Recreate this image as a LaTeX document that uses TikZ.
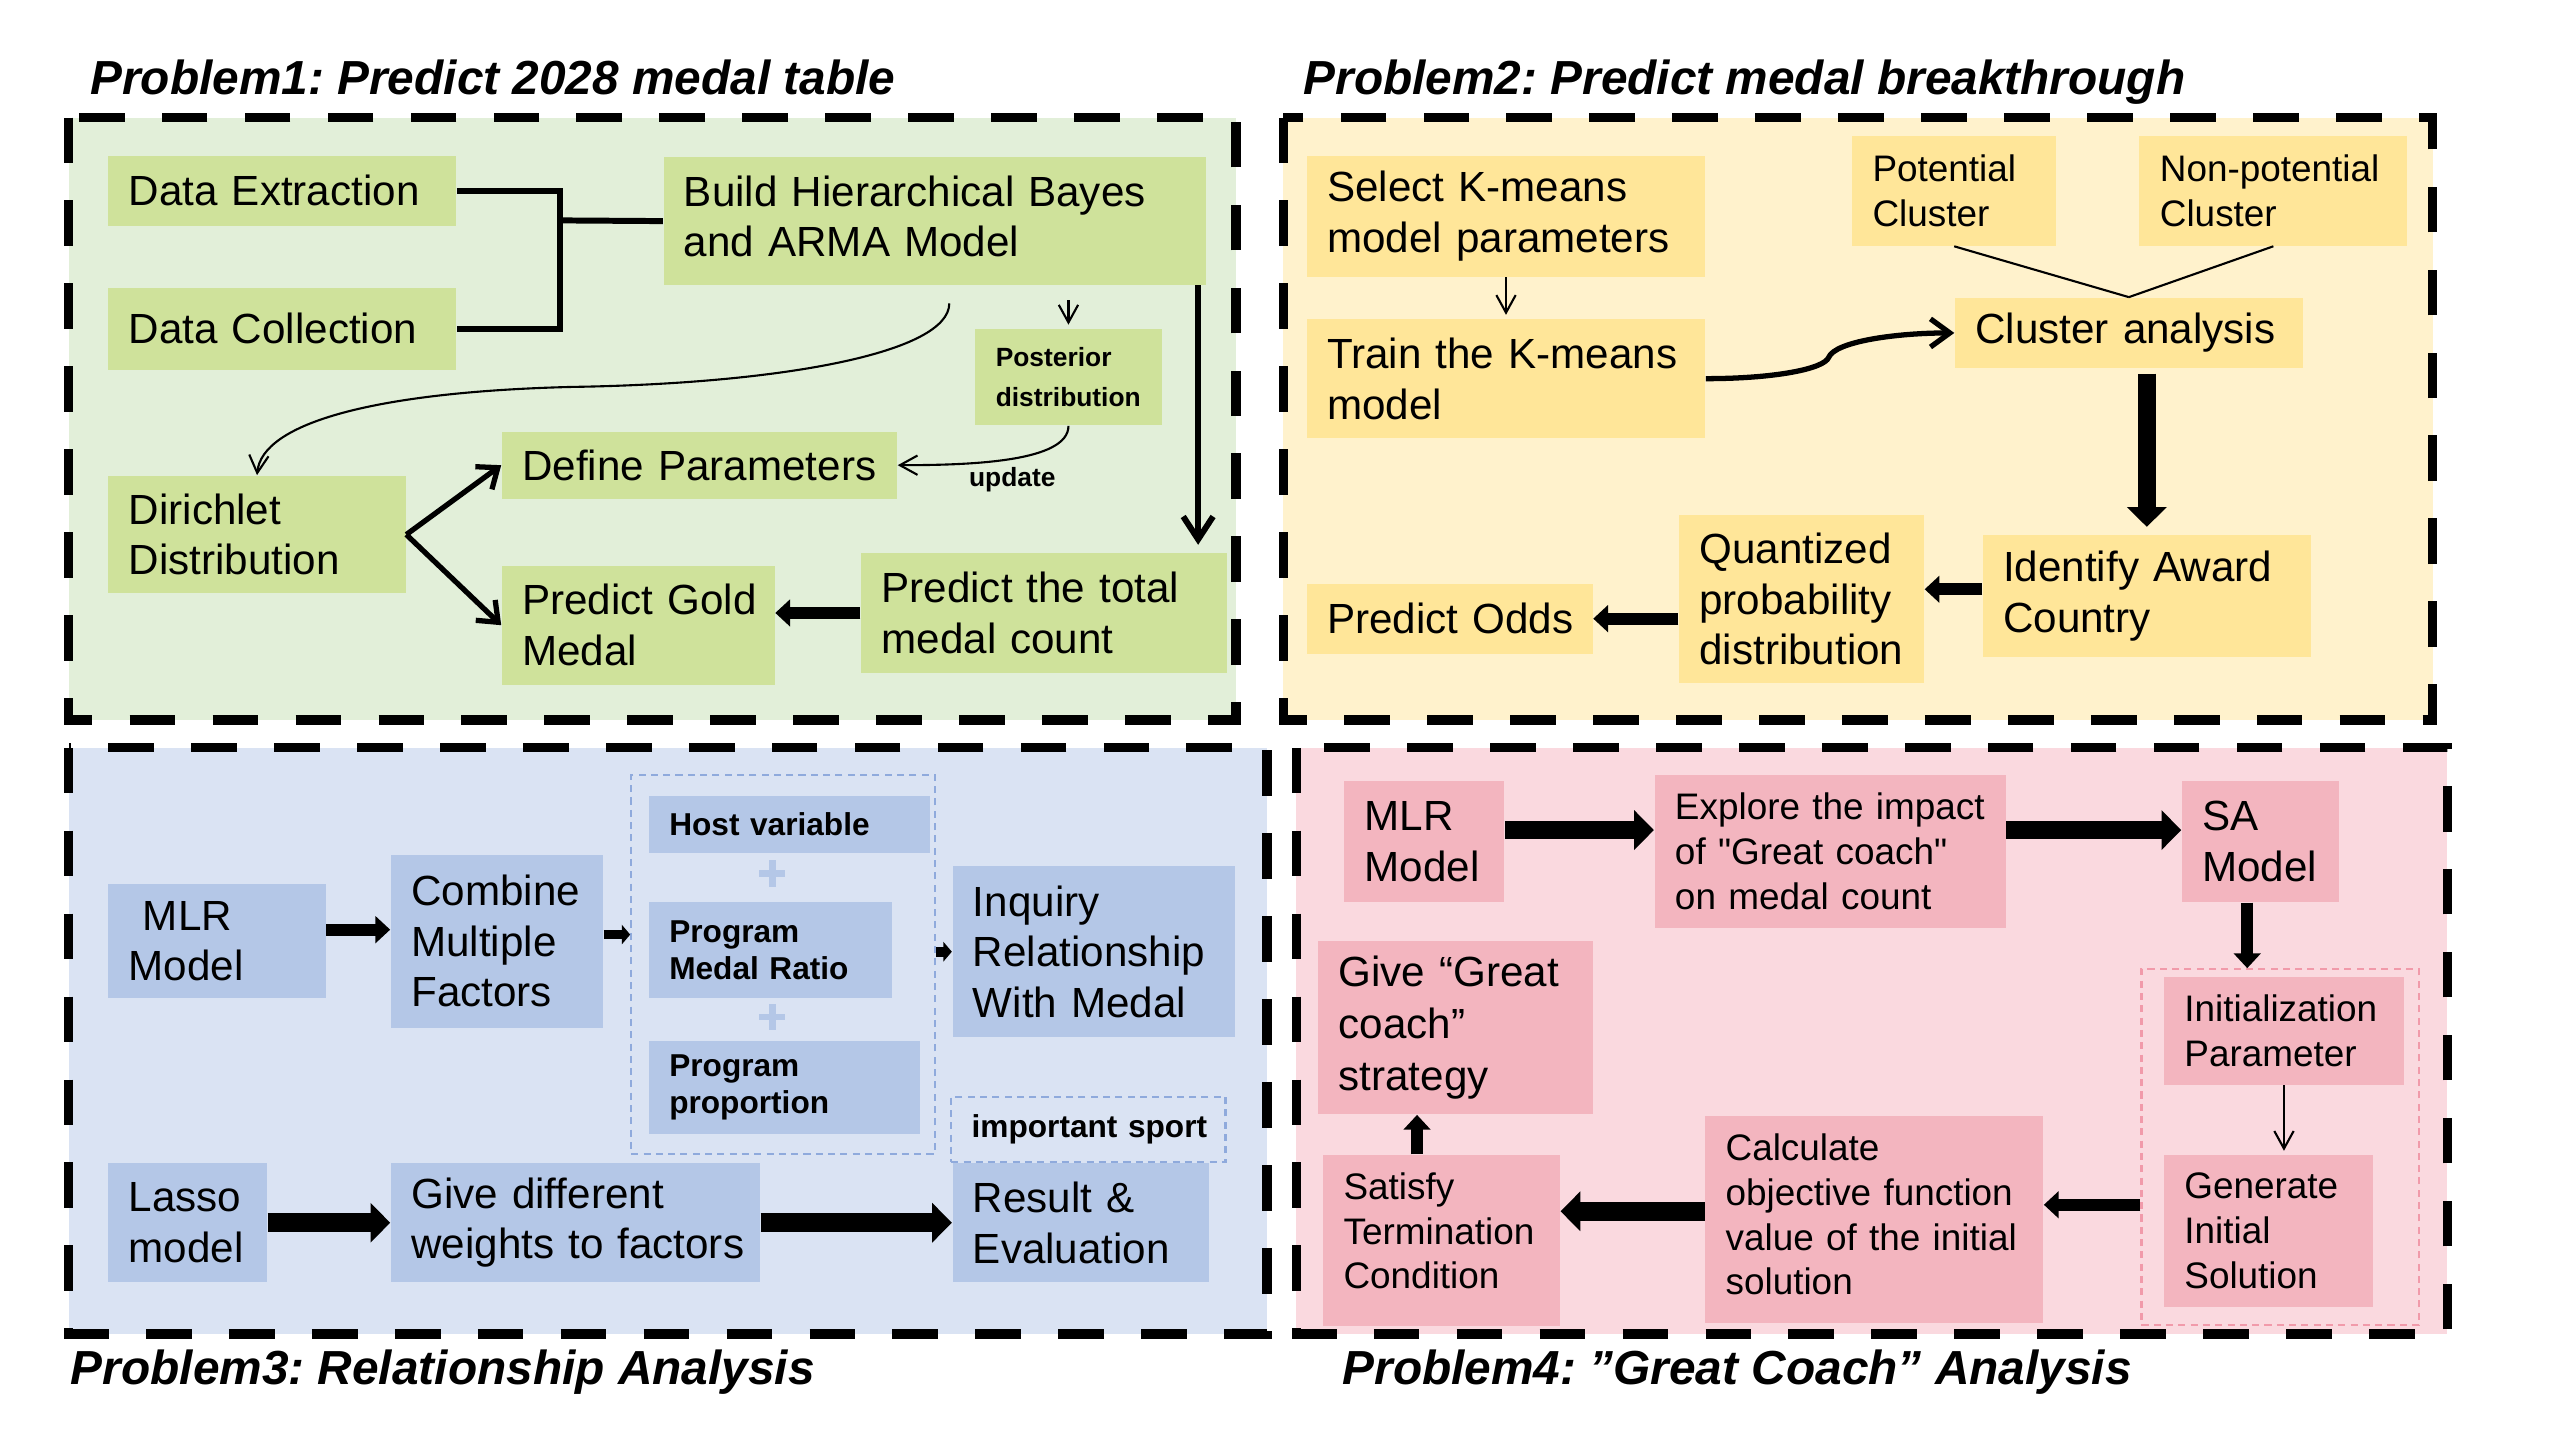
\documentclass[tikz,border=0pt]{standalone}
\usepackage{fontspec}
\setmainfont{Liberation Sans}
\newfontfamily\quotefont{Liberation Sans}
\usetikzlibrary{arrows.meta}

\newlength{\px}\setlength{\px}{0.16327mm}
\hyphenpenalty=10000 \exhyphenpenalty=10000
\frenchspacing

\definecolor{p1back}{HTML}{E2EFD9}
\definecolor{p1box}{HTML}{CFE29B}
\definecolor{p2back}{HTML}{FFF2CC}
\definecolor{p2box}{HTML}{FFE699}
\definecolor{p3back}{HTML}{DAE3F3}
\definecolor{p3box}{HTML}{B4C7E7}
\definecolor{p3dash}{HTML}{8FAADC}
\definecolor{p4back}{HTML}{FAD9DF}
\definecolor{p4box}{HTML}{F3B5BF}
\definecolor{p4dash}{HTML}{F19AAA}

\begin{document}
\begin{tikzpicture}[x=0.16327mm, y=-0.16327mm,
  panelborder/.style={line width=2.7pt, dash pattern=on 13pt off 10.6pt},
  cell/.style={anchor=north west, inner xsep=12.5\px, inner ysep=0pt, align=left, font=\fontsize{12}{14.4}\selectfont},
  gcell/.style={cell, fill=p1box},
  ycell/.style={cell, fill=p2box},
  bcell/.style={cell, fill=p3box},
  pcell/.style={cell, fill=p4box},
  smalltext/.style={font=\fontsize{10.5}{12.7}\selectfont},
  boldnine/.style={font=\bfseries\fontsize{9}{10.6}\selectfont},
  boldseven/.style={font=\bfseries\fontsize{7.5}{11.6}\selectfont},
  groupbox/.style={anchor=north west, inner sep=0pt, line width=0.6pt, dash pattern=on 2pt off 1.5pt},
  paneltitle/.style={anchor=base west, inner sep=0pt, font=\bfseries\itshape\fontsize{13.6}{16}\selectfont},
  bracket/.style={line width=1.7pt},
  plainline/.style={line width=0.6pt},
  thinarrow/.style={line width=0.6pt, -{Straight Barb[length=5pt, width=5.5pt]}},
  fork/.style={line width=1.5pt, -{Straight Barb[length=5pt, width=8pt]}},
  medline/.style={line width=1.7pt, -{Straight Barb[length=6.5pt, width=8.5pt]}},
  curvearrow/.style={line width=1.5pt, -{Straight Barb[length=5.5pt, width=8pt]}},
  bigarrow/.style={line width=5.3pt, -{Triangle[length=5.6pt, width=11pt]}},
  midarrow/.style={line width=3.4pt, -{Triangle[length=4.2pt, width=7.5pt]}},
  tinyarrow/.style={line width=2.8pt, -{Triangle[length=2.4pt, width=5.5pt]}},
  plussign/.style={line width=1.9pt, draw=p3box}]

\useasboundingbox (0,0) rectangle (1568,882);

% panels
\fill[p1back] (42,72) rectangle (757,441);
\draw[panelborder] (42,72) rectangle (757,441);
\fill[p2back] (786,72) rectangle (1490,441);
\draw[panelborder] (786,72) rectangle (1490,441);
\fill[p3back] (42,458) rectangle (776,817);
\draw[panelborder] (42,458) rectangle (776,817);
\fill[p4back] (794,458) rectangle (1499,817);
\draw[panelborder] (794,458) rectangle (1499,817);

\node[paneltitle] (t1) at (55,58) {Problem1: Predict 2028 medal table};
\node[paneltitle] (t2) at (798,58) {Problem2: Predict medal breakthrough};
\node[paneltitle] (t3) at (43,848) {Problem3: Relationship Analysis};
\node[paneltitle] (t4) at (822,848) {Problem4: ”Great Coach” Analysis};

% problem 1
\node[gcell, text width=188\px, minimum height=43\px] (extract) at (66,95) {Data Extraction};
\node[gcell, text width=188\px, minimum height=50\px] (collect) at (66,176) {Data Collection};
\node[gcell, text width=307\px, minimum height=78\px] (build) at (406,96) {Build Hierarchical Bayes\\and ARMA Model\rule[-6\px]{0pt}{0pt}};
\node[gcell, boldseven, text width=89\px, minimum height=59\px] (post) at (597,201) {Posterior\\distribution};
\node[gcell, text width=217\px, minimum height=41\px] (define) at (307,264) {Define~Parameters};
\node[gcell, text width=157\px, minimum height=72\px] (dirich) at (66,291) {Dirichlet\\Distribution};
\node[gcell, text width=142\px, minimum height=73\px] (gold) at (307,346) {Predict~Gold\\Medal};
\node[gcell, text width=199\px, minimum height=74\px] (total) at (527,338) {Predict the total\\medal count};
\node[boldseven, inner sep=0pt] (upd) at (620,294) {update};

\coordinate (join) at (343,135);
\draw[bracket] (extract.east) -| (join) |- (collect.east);
\draw[bracket] (join) -- (build.west);

\coordinate (sbend) at (350,237);
\draw[thinarrow] ([shift={(9,11)}]build.south) .. controls +(0,30) and +(130,-2) .. (sbend) .. controls +(-120,3) and +(3,-32) .. (dirich.north);
\draw[thinarrow, shorten >=1pt] (post.north |- build.south) ++(0,9) -- (post.north);
\draw[thinarrow] (post.south) .. controls +(0,22) and +(45,0) .. (define.east);
\draw[medline, shorten >=2pt] (build.south east) ++(-5,0) coordinate (b1) -- (b1 |- total.north);

\draw[fork] (dirich.east) -- (define.west);
\draw[fork] (dirich.east) -- (gold.west);
\draw[midarrow] (total.west) -- (total.west -| gold.east);

% problem 2
\node[ycell, text width=219\px, minimum height=74\px] (select) at (800,95) {Select K-means\\model~parameters};
\node[ycell, text width=219\px, minimum height=73\px] (train) at (800,195) {Train~the~K-means\\model};
\node[ycell, smalltext, text width=100\px, minimum height=67\px] (pot) at (1134,83) {Potential\\Cluster};
\node[ycell, smalltext, text width=139\px, minimum height=67\px] (npot) at (1310,83) {Non-potential\\Cluster};
\node[ycell, text width=188\px, minimum height=43\px] (clus) at (1197,182) {Cluster~analysis};
\node[ycell, text width=176\px, minimum height=75\px] (ident) at (1214,327) {Identify Award\\Country};
\node[ycell, text width=125\px, minimum height=103\px] (quant) at (1028,315) {Quantized\\probability\\distribution};
\node[ycell, text width=150\px, minimum height=43\px] (odds) at (800,357) {Predict~Odds};

\draw[thinarrow, shorten >=1pt] (select.south) -- (train.north);
\draw[plainline] (pot.south) -- (clus.north);
\draw[plainline] (npot.south) -- (clus.north);

\coordinate (kink) at (1120,219);
\draw[curvearrow] (train.east) .. controls +(42,0) and +(-3,7) .. (kink) .. controls +(4,-10) and +(-35,0) .. (clus.west);
\draw[bigarrow, shorten >=2pt] (clus.south -| ident.north) ++(0,3) -- (ident.north);
\draw[midarrow] (ident.west) ++(0,-4) coordinate (i1) -- (i1 -| quant.east);
\draw[midarrow] (quant.west |- odds.east) -- (odds.east);

% problem 3
\node[groupbox, draw=p3dash, minimum width=186\px, minimum height=232\px] (factors) at (386,474) {};
\node[bcell, text width=108\px, minimum height=70\px] (mlr) at (66,541) {\ MLR\\Model};
\node[bcell, text width=105\px, minimum height=106\px] (comb) at (239,523) {Combine\\Multiple\\Factors};
\node[bcell, boldnine, text width=147\px, minimum height=35\px] (host) at (397,487) {Host~variable};
\node[bcell, boldnine, text width=124\px, minimum height=59\px] (ratio) at (397,552) {Program\\Medal~Ratio};
\node[bcell, boldnine, text width=141\px, minimum height=57\px] (prop) at (397,637) {Program\\proportion};
\node[bcell, text width=148\px, minimum height=105\px] (inq) at (583,530) {Inquiry\\Relationship\\With Medal};
\node[cell, boldnine, draw=p3dash, line width=0.6pt, dash pattern=on 2pt off 1.5pt, text width=143\px, minimum height=40\px] (imp) at (582,671) {important~sport};
\node[bcell, text width=72\px, minimum height=73\px] (lasso) at (66,712) {Lasso\\model};
\node[bcell, text width=201\px, minimum height=73\px] (give) at (239,712) {Give different\\weights~to~factors};
\node[bcell, text width=132\px, minimum height=73\px] (res) at (583,712) {Result \&\\Evaluation};

\draw[plussign] (473,527) -- (473,543) (465,535) -- (481,535);
\draw[plussign] (473,615) -- (473,631) (465,623) -- (481,623);

\draw[midarrow] (mlr.east) ++(0,-7) coordinate (m1) -- (m1 -| comb.west);
\draw[tinyarrow] (comb.east) ++(0,-4) coordinate (m2) -- (m2 -| factors.west);
\draw[tinyarrow] (factors.east |- inq.west) -- (inq.west);
\draw[bigarrow] (lasso.east) -- (give.west);
\draw[bigarrow] (give.east) -- (res.west);

% problem 4
\node[groupbox, draw=p4dash, minimum width=170\px, minimum height=218\px] (saloop) at (1311,593) {};
\node[pcell, text width=73\px, minimum height=74\px] (mlrb) at (823,478) {MLR\\Model};
\node[pcell, smalltext, text width=190\px, minimum height=94\px] (explore) at (1013,474) {Explore~the~impact\\of {\quotefont"}Great coach{\quotefont"}\\on medal count};
\node[pcell, text width=71\px, minimum height=74\px] (sa) at (1336,478) {SA\\Model};
\node[pcell, smalltext, text width=122\px, minimum height=66\px] (init) at (1325,598) {Initialization\\Parameter};
\node[pcell, smalltext, text width=103\px, minimum height=93\px] (gen) at (1325,707) {Generate\\Initial\\Solution};
\node[pcell, smalltext, text width=182\px, minimum height=127\px] (calc) at (1044,683) {Calculate\\objective function\\value of the initial\\solution\rule[-6\px]{0pt}{0pt}};
\node[pcell, smalltext, text width=120\px, minimum height=105\px] (sat) at (810,707) {Satisfy\\Termination\\Condition\rule[-12\px]{0pt}{0pt}};
\node[pcell, font=\fontsize{12}{14.9}\selectfont, text width=143\px, minimum height=106\px] (coach) at (807,576) {Give “Great\\coach”\\strategy};

\draw[bigarrow] (mlrb.east) ++(0,-7) coordinate (m3) -- (m3 -| explore.west);
\draw[bigarrow] (explore.east |- m3) -- (m3 -| sa.west);
\draw[midarrow] (sa.south) ++(-8,0) coordinate (m4) -- (m4 |- saloop.north);
\draw[thinarrow, shorten >=1pt] (init.south) -- (init.south |- gen.north);
\path ([shift={(0,-9)}]calc.east) coordinate (c1);
\draw[midarrow] (saloop.west |- c1) -- (c1);
\draw[bigarrow] (calc.west) ++(0,-5) coordinate (c2) -- (c2 -| sat.east);
\path ([shift={(-15,0)}]sat.north) coordinate (s1);
\draw[midarrow] (s1) -- (s1 |- coach.south);

\end{tikzpicture}
\end{document}
